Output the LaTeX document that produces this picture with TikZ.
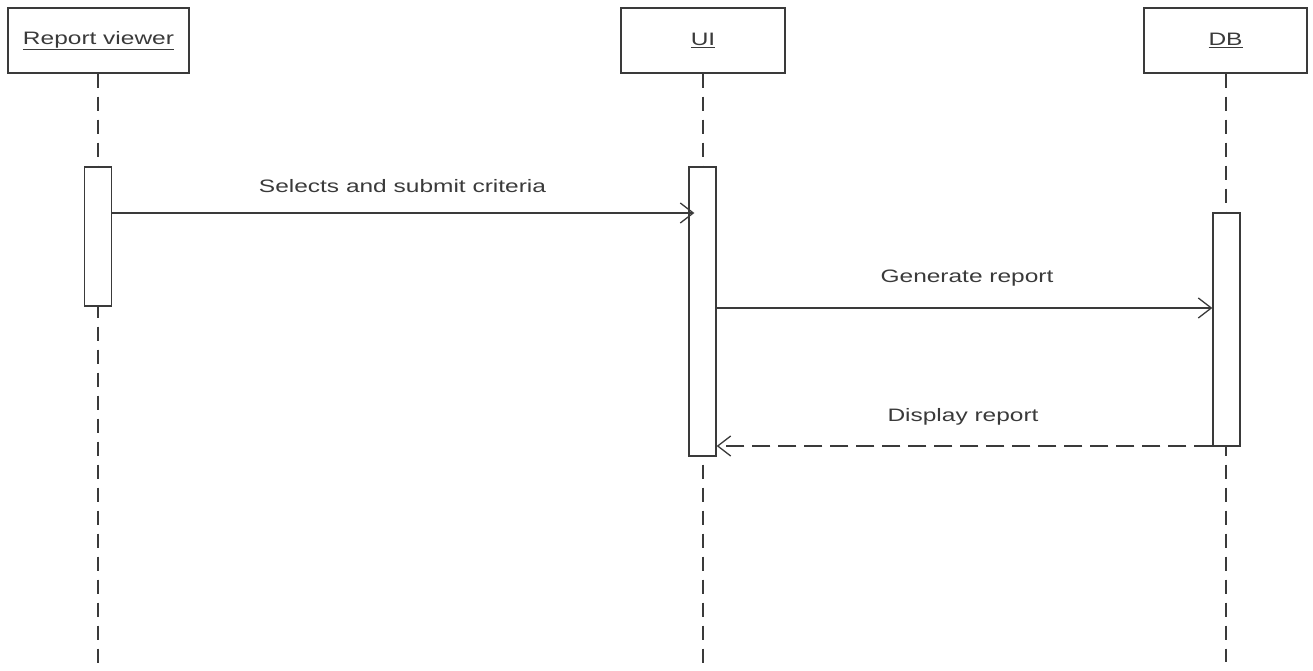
\documentclass[tikz,border=0pt]{standalone}
\usepackage{fontspec}
\newfontfamily\lbl[FakeStretch=1.36]{Liberation Sans}
\usetikzlibrary{arrows.meta}
\definecolor{ink}{HTML}{3A3A3A}
\tikzset{
  obj/.style={draw=ink, line width=1.4pt, fill=white, minimum height=65pt, inner sep=0pt, font=\lbl\fontsize{18}{21}\selectfont, text=ink},
  act/.style={draw=ink, line width=1.3pt, fill=white, minimum width=27pt, inner sep=0pt},
  life/.style={draw=ink, line width=1.4pt, dash pattern=on 14pt off 9pt},
  msg/.style={draw=ink, line width=1.2pt, -{Straight Barb[length=13pt,width=20pt,line width=1.3pt]}},
  ret/.style={msg, dash pattern=on 18pt off 8pt},
  lab/.style={font=\lbl\fontsize{18}{21}\selectfont, text=ink, inner sep=0pt}
}
\begin{document}
\begin{tikzpicture}[x=1pt,y=-1pt]
\useasboundingbox (0,0) rectangle (1313,671);
% objects
\node[obj, minimum width=181pt] (rv) at (98.5,40.5) {\underline{Report viewer}};
\node[obj, minimum width=164pt] (ui) at (703,40.5) {\underline{UI}};
\node[obj, minimum width=163pt] (db) at (1225.5,40.5) {\underline{DB}};
% lifeline ends
\coordinate (rvend) at (98,671);
\coordinate (uiend) at (703,671);
\coordinate (dbend) at (1226,662);
\draw[life] (rv.south -| rvend) -- (rvend);
\draw[life] (ui.south -| uiend) -- (uiend);
\draw[life] (db.south -| dbend) -- (dbend);
% activations
\node[act, minimum height=139pt] (a1) at (98,236.5) {};
\node[act, minimum height=289pt] (a2) at (702.5,311.5) {};
\node[act, minimum height=233pt] (a3) at (1226.5,329.5) {};
% message levels
\coordinate (y1) at (0,213);
\coordinate (y2) at (0,308);
\coordinate (y3) at (0,446);
\draw[msg, shorten >=-6pt] (a1.east |- y1) -- (a2.west |- y1);
\draw[msg] (a2.east |- y2) -- (a3.west |- y2);
\draw[ret] (a3.west |- y3) -- (a2.east |- y3);
% labels
\node[lab] (l1) at (402.5,186) {Selects and submit criteria};
\node[lab] (l2) at (967,278) {Generate report};
\node[lab] (l3) at (963,417) {Display report};
\end{tikzpicture}
\end{document}
